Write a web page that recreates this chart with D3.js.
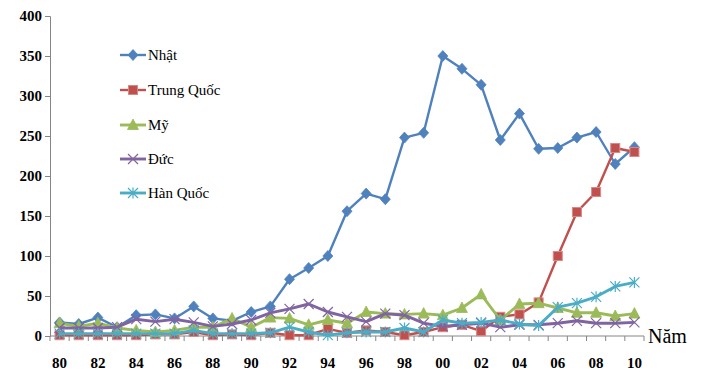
<!DOCTYPE html>
<html>
<head>
<meta charset="utf-8">
<script src="https://cdn.jsdelivr.net/npm/d3@7/dist/d3.min.js"></script>
<style>
  body { margin: 0; background: #fff; }
  svg { display: block; }
  svg text { font-family: "Liberation Serif", "Times New Roman", serif !important; }
</style>
</head>
<body>
<svg id="chart" width="705" height="380"></svg>
<script>
const years = ["80","81","82","83","84","85","86","87","88","89","90","91","92","93","94","95","96","97","98","99","00","01","02","03","04","05","06","07","08","09","10"];
const xTickLabels = ["80","82","84","86","88","90","92","94","96","98","00","02","04","06","08","10"];
const yTicks = [0,50,100,150,200,250,300,350,400];
const seriesNames = ["Nhật","Trung Quốc","Mỹ","Đức","Hàn Quốc"];
const nhat = [17,15,23,11,26,27,22,37,22,19,30,37,71,85,100,156,178,171,248,254,350,334,314,245,278,234,235,248,255,215,236];
const trungQuoc = [1,1,1,1,1,2,2,5,1,2,1,4,1,1,9,4,7,5,1,5,11,14,6,24,27,42,100,155,180,235,230];
const my = [16,12,16,10,7,5,7,11,11,22,11,23,22,14,20,16,30,28,27,28,26,35,52,20,40,41,35,29,29,25,28];
const duc = [10,10,10,11,21,18,21,17,12,15,20,29,34,40,30,24,18,28,26,16,12,14,16,11,14,14,16,19,16,16,17];
const hanQuoc = [3,3,3,3,3,3,3,7,3,3,3,4,11,5,1,4,5,5,10,5,20,16,17,20,15,13,36,41,49,62,67];
const xAxisTitle = "Năm";

const seriesValues = [nhat, trungQuoc, my, duc, hanQuoc];
const colors = ["#4F81BD","#C0504D","#9BBB59","#8064A2","#4BACC6"];
const markers = ["diamond","square","triangle","x","star"];
const widths = [2.4, 2.4, 2.9, 2.9, 2.9];

const svg = d3.select("#chart");
const pLeft = 50, pRight = 644, pTop = 16, pBottom = 336;

const x = d3.scaleBand().domain(years).range([pLeft, pRight]).padding(0);
const bw = x.bandwidth();
const cx = d => x(d) + bw / 2;
const y = d3.scaleLinear().domain([0, 400]).range([pBottom, pTop]);

// Y axis
const yAxis = svg.append("g").attr("transform", `translate(${pLeft},0)`)
  .call(d3.axisLeft(y).tickValues(yTicks).tickSize(5).tickPadding(3).tickFormat(d3.format("d")));
yAxis.attr("font-family", null).attr("font-size", null);
yAxis.select(".domain").attr("stroke", "#868686").attr("stroke-width", 1);
yAxis.selectAll(".tick line").attr("stroke", "#868686");
yAxis.selectAll(".tick text").style("font-family", "'Liberation Serif', serif").attr("font-weight", "bold")
  .attr("font-size", 15).attr("fill", "#000");

// X axis
const xg = svg.append("g");
xg.append("line").attr("x1", pLeft).attr("x2", pRight).attr("y1", pBottom).attr("y2", pBottom)
  .attr("stroke", "#868686").attr("stroke-width", 1);
const edges = years.map(d => x(d)).concat([pRight]);
xg.selectAll("line.tk").data(edges).enter().append("line").attr("class", "tk")
  .attr("x1", d => d).attr("x2", d => d).attr("y1", pBottom).attr("y2", pBottom + 5)
  .attr("stroke", "#868686");
xg.selectAll("text.xl").data(xTickLabels).enter().append("text").attr("class", "xl")
  .attr("x", d => cx(d)).attr("y", 368).attr("text-anchor", "middle")
  .attr("font-weight", "bold").attr("font-size", 15).text(d => d);
svg.append("text").attr("x", 648).attr("y", 343).attr("font-size", 20).text(xAxisTitle);

function drawMarker(g, type, color, px, py, s) {
  const h = s / 2;
  if (type === "diamond") {
    g.append("path").attr("d", `M${px},${py-h-0.5}L${px+h},${py}L${px},${py+h+0.5}L${px-h},${py}Z`)
      .attr("fill", color).attr("stroke", color).attr("stroke-width", 0.8);
  } else if (type === "square") {
    g.append("rect").attr("x", px - h + 0.5).attr("y", py - h + 0.5).attr("width", s - 1).attr("height", s - 1)
      .attr("fill", color).attr("stroke", "#D68A88").attr("stroke-width", 1);
  } else if (type === "triangle") {
    g.append("path").attr("d", `M${px},${py-h-1}L${px+h+0.5},${py+h-0.5}L${px-h-0.5},${py+h-0.5}Z`)
      .attr("fill", color).attr("stroke", color).attr("stroke-width", 0.8);
  } else if (type === "x") {
    g.append("path").attr("d", `M${px-h},${py-h}L${px+h},${py+h}M${px-h},${py+h}L${px+h},${py-h}`)
      .attr("stroke", color).attr("stroke-width", 1.2).attr("fill", "none");
  } else if (type === "star") {
    g.append("path").attr("d", `M${px-h},${py-h}L${px+h},${py+h}M${px-h},${py+h}L${px+h},${py-h}M${px},${py-h-0.5}L${px},${py+h+0.5}`)
      .attr("stroke", color).attr("stroke-width", 1.2).attr("fill", "none");
  }
}

const line = d3.line().x((d, i) => cx(years[i])).y(d => y(d));
seriesValues.forEach((vals, si) => {
  const g = svg.append("g");
  g.append("path").datum(vals).attr("d", line).attr("fill", "none")
    .attr("stroke", colors[si]).attr("stroke-width", widths[si]).attr("stroke-linejoin", "round");
  vals.forEach((v, i) => drawMarker(g, markers[si], colors[si], cx(years[i]), y(v), 10));
});

// Legend
const legY = [55, 90, 125, 159, 193];
seriesNames.forEach((name, si) => {
  const g = svg.append("g");
  const ly = legY[si];
  g.append("line").attr("x1", 120).attr("x2", 146).attr("y1", ly).attr("y2", ly)
    .attr("stroke", colors[si]).attr("stroke-width", widths[si]);
  drawMarker(g, markers[si], colors[si], 133, ly, 10);
  g.append("text").attr("x", 148).attr("y", ly + 5).attr("font-size", 15).text(name);
});
</script>
</body>
</html>
